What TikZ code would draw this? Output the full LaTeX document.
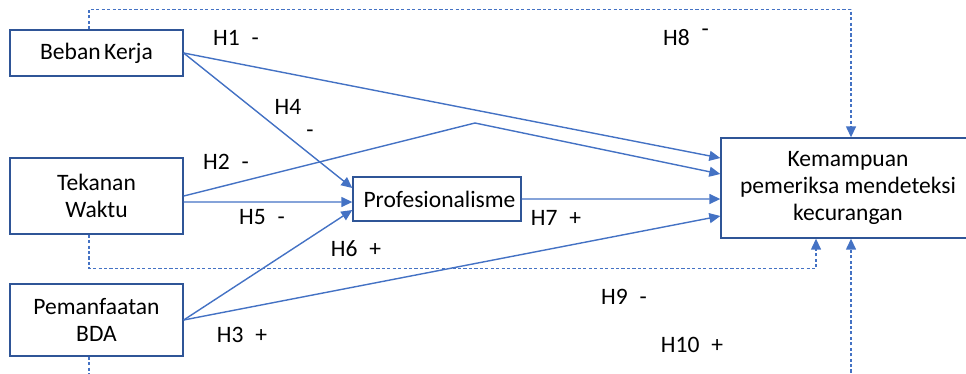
\documentclass[tikz,border=0pt]{standalone}
\usepackage{fontspec}
\setmainfont{Carlito}
\usetikzlibrary{arrows.meta}
\definecolor{linkblue}{RGB}{68,114,196}
\definecolor{boxblue}{RGB}{47,85,151}

\begin{document}
\begin{tikzpicture}[x=0.02cm, y=-0.02cm,
        every node/.style={font=\fontsize{13.4}{15.5}\selectfont},
        box/.style={draw=boxblue, line width=0.8pt, align=center, inner sep=0pt},
        link/.style={linkblue, line width=0.8pt, -{Triangle[length=2.2mm,width=2mm]}},
        hidden/.style={link, dash pattern=on 1.8pt off 1.3pt}]
        \useasboundingbox (0,0) rectangle (966,373);
        \clip (0,0) rectangle (966,373);

        \node[box, minimum width=3.46cm, minimum height=0.92cm] (bk) at (96.5,53) {Beban\hspace{-1pt} Kerja};
        \node[box, minimum width=3.46cm, minimum height=1.52cm] (tw) at (96.5,196) {Tekanan\\Waktu};
        \node[box, minimum width=3.46cm, minimum height=1.44cm] (bda) at (96.5,320) {Pemanfaatan\\BDA};
        \node[box, minimum width=3.36cm, minimum height=0.88cm] (prof) at (437,199) {\hspace{0.1cm}Profesionalisme};
        \node[box, minimum width=5.08cm, minimum height=2cm] (kem) at (848,188) {Kemampuan\\pemeriksa mendeteksi\\kecurangan};
        \coordinate (kink) at (475,123);

        \draw[link] (bk.east) -- ([yshift=0.6cm]kem.west);
        \draw[link] (bk.east) -- ([yshift=0.22cm]prof.west);
        \draw[link] ([yshift=-0.12cm]tw.east) -- ([yshift=-0.06cm]prof.west);
        \draw[link] (tw.east) -- (kink) -- ([yshift=0.28cm]kem.west);
        \draw[link] (bda.east) -- ([yshift=-0.22cm]prof.west);
        \draw[link] (bda.east) -- ([yshift=-0.56cm]kem.west);
        \draw[link] (prof.east) -- ([yshift=-0.22cm]kem.west);

        \draw[hidden] ([xshift=-0.15cm]bk.north) -- ++(0,-20) -| ([xshift=0.06cm]kem.north);
        \draw[hidden] ([xshift=-0.15cm]tw.south) -- ++(0,34) -| ([xshift=-0.64cm]kem.south);
        \draw[hidden] ([xshift=-0.15cm]bda.south) -- ++(0,30) -| ([xshift=0.06cm]kem.south);

        \node (h1) at (236,38) {H1\enspace-};
        \node (h2) at (226,162) {H2\enspace-};
        \node (h3) at (242,335) {H3\enspace+};
        \node (h4) at (288,107) {H4};
        \node (h4sign) at (310,134) {-};
        \node (h5) at (262,217) {H5\enspace-};
        \node (h6) at (356,249) {H6\enspace+};
        \node (h7) at (556,218) {H7\enspace+};
        \node (h8) at (686,37) {H8\enspace\raisebox{5pt}{-}};
        \node (h9) at (624,297) {H9\enspace-};
        \node (h10) at (692,345) {H10\enspace+};
\end{tikzpicture}
\end{document}
